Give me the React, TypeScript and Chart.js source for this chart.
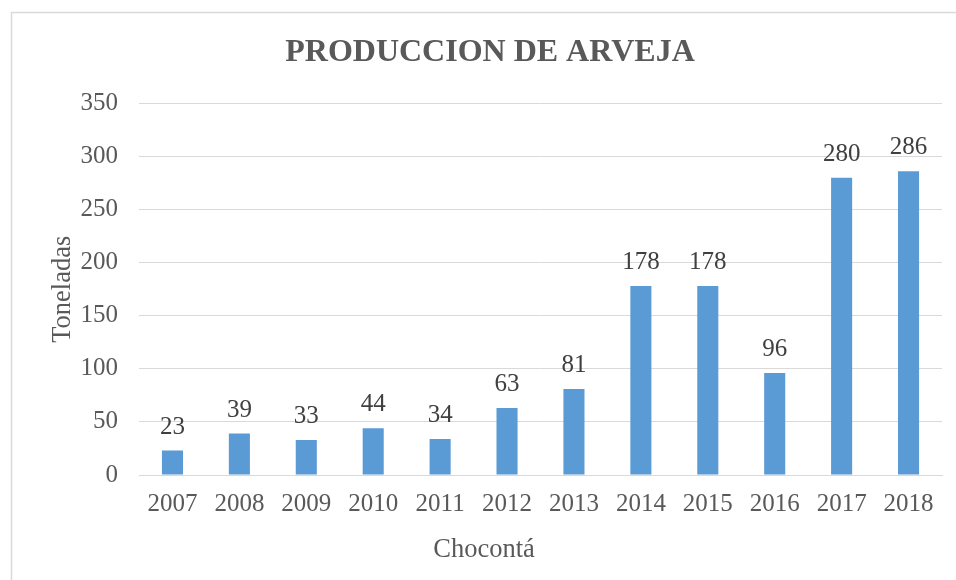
import React, { useEffect, useRef } from "react";
import { Chart, registerables } from "chart.js";

Chart.register(...registerables);

const categories = ["2007", "2008", "2009", "2010", "2011", "2012", "2013", "2014", "2015", "2016", "2017", "2018"];
const values = [23, 39, 33, 44, 34, 63, 81, 178, 178, 96, 280, 286];
const yTicks = [0, 50, 100, 150, 200, 250, 300, 350];
const chartTitle = "PRODUCCION DE ARVEJA";
const yTitle = "Toneladas";
const xTitle = "Chocontá";

const FONT = "'Liberation Serif', 'Times New Roman', serif";
const TEXT = "#595959";
const GRID = "#d9d9d9";
const BAR = "#5B9BD5";

const frame = {
  id: "frame",
  beforeDraw(chart: any) {
    const { ctx, width, height } = chart;
    ctx.save();
    ctx.fillStyle = "#ffffff";
    ctx.fillRect(0, 0, width, height);
    ctx.strokeStyle = "#d9d9d9";
    ctx.lineWidth = 1.5;
    ctx.strokeRect(11.5, 12.5, width + 50, height + 50);
    ctx.restore();
  },
};

const xAxisTitle = {
  id: "xAxisTitle",
  afterDraw(chart: any) {
    const { ctx } = chart;
    ctx.save();
    ctx.font = `26.5px ${FONT}`;
    ctx.fillStyle = TEXT;
    ctx.textAlign = "center";
    ctx.textBaseline = "middle";
    ctx.fillText(xTitle, 484, 550);
    ctx.restore();
  },
};

const dataLabels = {
  id: "dataLabels",
  afterDatasetsDraw(chart: any) {
    const { ctx } = chart;
    const meta = chart.getDatasetMeta(0);
    ctx.save();
    ctx.font = `25px ${FONT}`;
    ctx.fillStyle = "#404040";
    ctx.textAlign = "center";
    ctx.textBaseline = "alphabetic";
    meta.data.forEach((el: any, i: number) => {
      ctx.fillText(String(values[i]), el.x, el.y - 17);
    });
    ctx.restore();
  },
};

export default function App() {
  const ref = useRef<HTMLCanvasElement>(null);

  useEffect(() => {
    document.body.style.margin = "0";
    const canvas = ref.current!;
    const chart = new Chart(canvas, {
      type: "bar",
      data: {
        labels: categories,
        datasets: [
          {
            data: values,
            backgroundColor: BAR,
            borderWidth: 0,
            barPercentage: 1,
            categoryPercentage: 0.315,
          },
        ],
      },
      options: {
        responsive: false,
        animation: false,
        devicePixelRatio: 1,
        layout: { padding: { left: 38, right: 14, top: 0, bottom: 0 } },
        plugins: {
          legend: { display: false },
          tooltip: { enabled: false },
          title: {
            display: true,
            text: chartTitle,
            color: TEXT,
            font: { family: FONT, size: 32, weight: "bold" },
            padding: { top: 34, bottom: 31 },
          },
        },
        scales: {
          x: {
            grid: { display: false },
            border: { display: true, color: GRID },
            ticks: { color: TEXT, font: { family: FONT, size: 25 }, padding: 6 },
            afterFit: (s: any) => {
              s.height = 105;
            },
          },
          y: {
            min: 0,
            max: 350,
            grid: { color: GRID, drawTicks: false },
            border: { display: false },
            ticks: { color: TEXT, font: { family: FONT, size: 25 }, padding: 21 },
            afterBuildTicks: (s: any) => {
              s.ticks = yTicks.map((v) => ({ value: v }));
            },
            title: {
              display: true,
              text: yTitle,
              color: TEXT,
              font: { family: FONT, size: 26.5 },
              padding: { top: 9, bottom: 0 },
            },
            afterFit: (s: any) => {
              s.width = 101;
            },
          },
        },
      },
      plugins: [frame, dataLabels, xAxisTitle],
    });
    return () => chart.destroy();
  }, []);

  return (
    <div style={{ position: "absolute", left: 0, top: 0, width: 956, height: 580, background: "#fff" }}>
      <canvas ref={ref} width={956} height={580} style={{ width: 956, height: 580, display: "block" }} />
    </div>
  );
}
